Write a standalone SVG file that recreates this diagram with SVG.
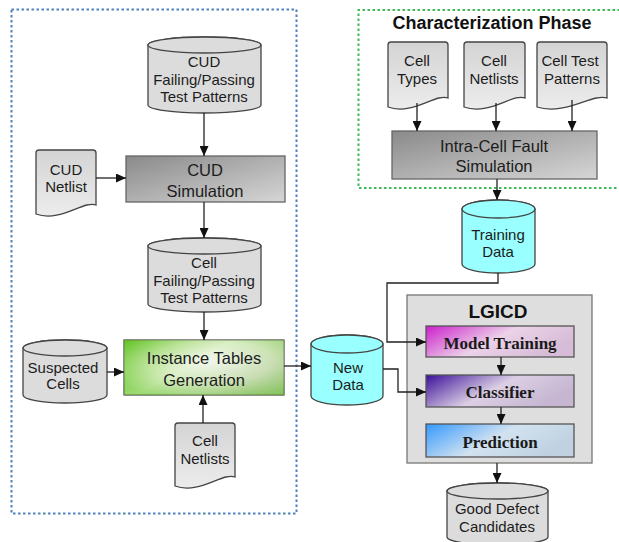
<svg xmlns="http://www.w3.org/2000/svg" width="619" height="542" viewBox="0 0 619 542">
  <style>
    .t { font-family: "Liberation Sans", Arial, sans-serif; font-size: 15px; fill: #1c1c1c; text-anchor: middle; }
    .tp { font-family: "Liberation Sans", Arial, sans-serif; font-size: 16.5px; fill: #1c1c1c; text-anchor: middle; }
    .tb { font-family: "Liberation Sans", Arial, sans-serif; font-weight: bold; fill: #111; text-anchor: middle; }
    .ts { font-family: "Liberation Serif", "Times New Roman", serif; font-weight: bold; font-size: 17px; fill: #1a1a1a; text-anchor: middle; }
    .gray { fill: #dcdcdc; stroke: #444; stroke-width: 1.3; }
    .doc { fill: url(#docFill); stroke: #444; stroke-width: 1.3; }
    .cyan { fill: #99ffff; stroke: #444; stroke-width: 1.3; }
    .proc { fill: url(#procFill); stroke: #666; stroke-width: 1.3; }
    .edge { fill: none; stroke: #222; stroke-width: 1.3; marker-end: url(#arrow); }
  </style>
  <defs>
    <marker id="arrow" markerUnits="userSpaceOnUse" markerWidth="10" markerHeight="9" refX="10" refY="4.5" orient="auto">
      <path d="M0,0 L10,4.5 L0,9 Z" fill="#111"/>
    </marker>
    <linearGradient id="docFill" x1="0" y1="0" x2="0" y2="1">
      <stop offset="0" stop-color="#d4d4d4"/>
      <stop offset="1" stop-color="#ececec"/>
    </linearGradient>
    <linearGradient id="procFill" x1="0" y1="0" x2="1" y2="1">
      <stop offset="0" stop-color="#8a8a8a"/>
      <stop offset="1" stop-color="#d6d6d6"/>
    </linearGradient>
    <radialGradient id="greenFill" cx="0.55" cy="0.4" r="0.7">
      <stop offset="0" stop-color="#f6faf2"/>
      <stop offset="0.55" stop-color="#c4e6a0"/>
      <stop offset="1" stop-color="#5cc21a"/>
    </radialGradient>
    <linearGradient id="greenFill2" x1="0" y1="0" x2="1" y2="0.6">
      <stop offset="0" stop-color="#56c014"/>
      <stop offset="0.5" stop-color="#f0f7e8"/>
      <stop offset="1" stop-color="#c2c8bc"/>
    </linearGradient>
    <linearGradient id="magentaFill" x1="0" y1="0" x2="1" y2="0.4">
      <stop offset="0" stop-color="#cc1fcc"/>
      <stop offset="0.55" stop-color="#ecd2e8"/>
      <stop offset="1" stop-color="#d6bcd6"/>
    </linearGradient>
    <linearGradient id="indigoFill" x1="0" y1="0" x2="1" y2="0.4">
      <stop offset="0" stop-color="#3a109a"/>
      <stop offset="0.55" stop-color="#dccfe4"/>
      <stop offset="1" stop-color="#c6b6d2"/>
    </linearGradient>
    <linearGradient id="blueFill" x1="0" y1="0" x2="1" y2="0.4">
      <stop offset="0" stop-color="#3399ff"/>
      <stop offset="0.55" stop-color="#d2e2ef"/>
      <stop offset="1" stop-color="#c0d2e2"/>
    </linearGradient>
  </defs>

  <!-- phase frames -->
  <g id="frames">
    <rect x="11.5" y="9.5" width="285" height="504" fill="none" stroke="#4f81bd" stroke-width="2" stroke-dasharray="2.5 2.5"/>
    <path d="M620,10 H358.5 V188 H620" fill="none" stroke="#3dbb55" stroke-width="2" stroke-dasharray="2.5 2.5"/>
    <text class="tb" x="492" y="29" font-size="18">Characterization Phase</text>
  </g>

  <!-- CUD failing/passing patterns -->
  <g id="cud-patterns">
    <path class="gray" d="M148,45 V105 A56.5,8 0 0 0 261,105 V45 A56.5,8 0 0 0 148,45 Z"/>
    <ellipse class="gray" cx="204.5" cy="45" rx="56.5" ry="8"/>
    <text class="t" x="204" y="67">CUD</text>
    <text class="t" x="204" y="85">Failing/Passing</text>
    <text class="t" x="204" y="102">Test Patterns</text>
  </g>

  <g id="cud-netlist">
    <path class="doc" d="M36,153 Q36,150 39,150 H93 Q96,150 96,153 V205 C84,200 60,223 36,214 Z"/>
    <text class="t" x="66" y="175">CUD</text>
    <text class="t" x="66" y="192">Netlist</text>
  </g>

  <g id="cud-simulation">
    <rect class="proc" x="126" y="156" width="159" height="46"/>
    <text class="tp" x="205" y="176" font-size="17">CUD</text>
    <text class="tp" x="205" y="197" font-size="17">Simulation</text>
  </g>

  <g id="cell-patterns">
    <path class="gray" d="M148,246 V304 A56.5,8 0 0 0 261,304 V246 A56.5,8 0 0 0 148,246 Z"/>
    <ellipse class="gray" cx="204.5" cy="246" rx="56.5" ry="8"/>
    <text class="t" x="204" y="268">Cell</text>
    <text class="t" x="204" y="286">Failing/Passing</text>
    <text class="t" x="204" y="303">Test Patterns</text>
  </g>

  <g id="suspected-cells">
    <path class="gray" d="M23,348 V395 A42,8 0 0 0 107,395 V348 A42,8 0 0 0 23,348 Z"/>
    <ellipse class="gray" cx="65" cy="348" rx="42" ry="8"/>
    <text class="t" x="63" y="373">Suspected</text>
    <text class="t" x="63" y="389">Cells</text>
  </g>

  <g id="instance-tables">
    <rect x="124" y="340" width="160" height="55" fill="url(#greenFill2)" stroke="#555" stroke-width="1.3"/>
    <rect x="124" y="340" width="160" height="55" fill="url(#greenFill)" opacity="0.55"/>
    <text class="tp" x="204" y="364" font-size="17">Instance Tables</text>
    <text class="tp" x="204" y="386" font-size="17">Generation</text>
  </g>

  <g id="cell-netlists-lower">
    <path class="doc" d="M175,426 Q175,423 178,423 H232 Q235,423 235,426 V477 C223,472 199,495 175,486 Z"/>
    <text class="t" x="205" y="446">Cell</text>
    <text class="t" x="205" y="464">Netlists</text>
  </g>

  <g id="new-data">
    <path class="cyan" d="M311,344 V396 A36,9 0 0 0 383,396 V344 A36,9 0 0 0 311,344 Z"/>
    <ellipse class="cyan" cx="347" cy="344" rx="36" ry="9"/>
    <text class="t" x="348" y="373">New</text>
    <text class="t" x="348" y="390">Data</text>
  </g>

  <!-- characterization inputs -->
  <g id="cell-types">
    <path class="doc" d="M388,45 Q388,42 391,42 H445 Q448,42 448,45 V98 C436,93 412,116 388,107 Z"/>
    <text class="t" x="417" y="66">Cell</text>
    <text class="t" x="417" y="84">Types</text>
  </g>

  <g id="cell-netlists-upper">
    <path class="doc" d="M464,45 Q464,42 467,42 H522 Q525,42 525,45 V98 C513,93 489,116 464,107 Z"/>
    <text class="t" x="494" y="66">Cell</text>
    <text class="t" x="494" y="84">Netlists</text>
  </g>

  <g id="cell-test-patterns">
    <path class="doc" d="M537,45 Q537,42 540,42 H604 Q607,42 607,45 V98 C593,93 565,116 537,107 Z"/>
    <text class="t" x="570" y="66">Cell Test</text>
    <text class="t" x="572" y="84">Patterns</text>
  </g>

  <g id="intra-cell-sim">
    <rect class="proc" x="392" y="131" width="205" height="48"/>
    <text class="tp" x="494" y="152">Intra-Cell Fault</text>
    <text class="tp" x="494" y="172">Simulation</text>
  </g>

  <g id="training-data">
    <path class="cyan" d="M462,209 V264 A36.5,9 0 0 0 535,264 V209 A36.5,9 0 0 0 462,209 Z"/>
    <ellipse class="cyan" cx="498.5" cy="209" rx="36.5" ry="9"/>
    <text class="t" x="498" y="240">Training</text>
    <text class="t" x="498" y="257">Data</text>
  </g>

  <!-- LGICD block -->
  <g id="lgicd">
    <rect x="407" y="295" width="185" height="168" fill="#dedede" stroke="#777" stroke-width="1.3"/>
    <text class="tb" x="498" y="318" font-size="19">LGICD</text>
  </g>

  <g id="model-training">
    <rect x="426" y="326" width="148" height="31" fill="url(#magentaFill)" stroke="#555" stroke-width="1.3"/>
    <text class="ts" x="500" y="349">Model Training</text>
  </g>

  <g id="classifier">
    <rect x="426" y="375" width="148" height="32" fill="url(#indigoFill)" stroke="#555" stroke-width="1.3"/>
    <text class="ts" x="500" y="398">Classifier</text>
  </g>

  <g id="prediction">
    <rect x="426" y="424" width="148" height="33" fill="url(#blueFill)" stroke="#555" stroke-width="1.3"/>
    <text class="ts" x="500" y="448">Prediction</text>
  </g>

  <g id="good-defect-candidates">
    <path class="gray" d="M447,491 V537 A50.5,8 0 0 0 548,537 V491 A50.5,8 0 0 0 447,491 Z"/>
    <ellipse class="gray" cx="497.5" cy="491" rx="50.5" ry="8"/>
    <text class="t" x="497" y="514">Good Defect</text>
    <text class="t" x="497" y="532">Candidates</text>
  </g>

  <!-- connectors, drawn over the container boxes -->
  <g id="connectors">
    <path class="edge" d="M204,113 V156"/>
    <path class="edge" d="M96,178 H126"/>
    <path class="edge" d="M204,202 V238"/>
    <path class="edge" d="M204,312 V340"/>
    <path class="edge" d="M107,372 H124"/>
    <path class="edge" d="M203,423 V395"/>
    <path class="edge" d="M284,366 H311"/>
    <path class="edge" d="M417,103 V131"/>
    <path class="edge" d="M496,103 V131"/>
    <path class="edge" d="M572,100 V131"/>
    <path class="edge" d="M497,179 V200"/>
    <path class="edge" d="M498,273 V283 H387 V342 H426"/>
    <path class="edge" d="M383,369 H398 V392 H426"/>
    <path class="edge" d="M501,357 V375"/>
    <path class="edge" d="M501,407 V424"/>
    <path class="edge" d="M497,463 V483"/>
  </g>
</svg>
